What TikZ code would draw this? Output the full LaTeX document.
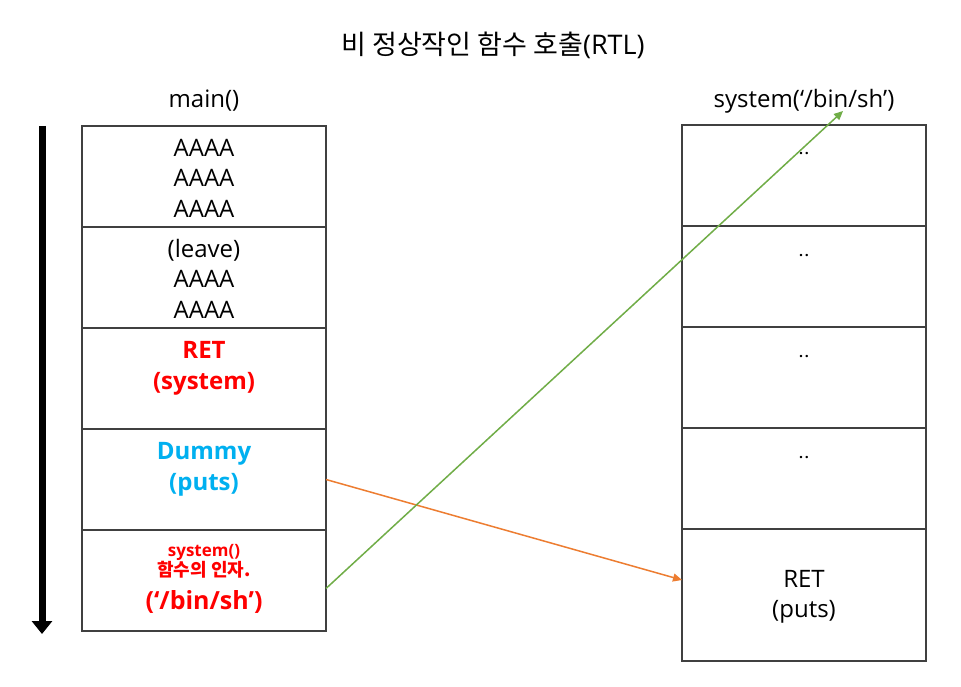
\documentclass[tikz,border=0pt]{standalone}
\usepackage{fontspec}
\setmainfont{Open Sans}
\newfontfamily\kr{Noto Sans CJK KR}
\usetikzlibrary{positioning,arrows.meta}
\definecolor{retred}{HTML}{FF0000}
\definecolor{dummyblue}{HTML}{00B0F0}
\definecolor{callorange}{HTML}{ED7D31}
\definecolor{callgreen}{HTML}{70AD47}
\definecolor{cellgray}{HTML}{404040}
\tikzset{every node/.style={inner sep=0pt,outer sep=0pt},
    cell/.style={draw=cellgray,line width=1.2pt,minimum width=244pt,minimum height=101pt},
    lastcell/.style={cell,minimum height=132pt},
    celltext/.style={align=center,font=\fontsize{24}{30.5}\selectfont},
    boldtext/.style={align=center,font=\bfseries\fontsize{24}{31.5}\selectfont},
    dots/.style={font=\bfseries\fontsize{14}{16}\selectfont},
    call/.style={line width=1.5pt,-{Triangle[length=9pt,width=8pt]}},
    }

\begin{document}
\begin{tikzpicture}[x=1pt,y=-1pt]
\useasboundingbox (0,0) rectangle (961,687);
\path[fill=white] (0,0) rectangle (961,687);
% title
\node[font=\fontsize{27}{30}\selectfont,anchor=base] (title) at (493,55) {{\kr 비 정상작인 함수 호출}(RTL)};
% main() stack
\node[cell] (L1) at (204,176.5) {};
\node[cell,below=0pt of L1] (L2) {};
\node[cell,below=0pt of L2] (L3) {};
\node[cell,below=0pt of L3] (L4) {};
\node[cell,below=0pt of L4] (L5) {};
\node[celltext,anchor=base] (mainlbl) at ([yshift=18pt]L1.north) {main()};
\node[celltext,anchor=north] (t1) at ([yshift=-13pt]L1.north) {AAAA\\AAAA\\AAAA};
\node[celltext,anchor=north] (t2) at ([yshift=-12pt]L2.north) {(leave)\\AAAA\\AAAA};
\node[boldtext,text=retred,anchor=north] (t3) at ([yshift=-13pt]L3.north) {RET\\(system)};
\node[boldtext,text=dummyblue,anchor=north] (t4) at ([yshift=-13pt]L4.north) {Dummy\\(puts)};
\node[align=center,text=retred,font=\bfseries\fontsize{17}{20}\selectfont,anchor=north] (t5)
    at ([yshift=-14pt]L5.north) {system()\\{\kr\fontsize{18}{20}\selectfont 함수의 인자.}\\[12pt]{\fontsize{25}{33}\selectfont (‘/bin/sh’)}};
% system() frame
\node[cell] (R1) at (804,175.5) {};
\node[cell,below=0pt of R1] (R2) {};
\node[cell,below=0pt of R2] (R3) {};
\node[cell,below=0pt of R3] (R4) {};
\node[lastcell,below=0pt of R4] (R5) {};
\node[celltext,anchor=base] (syslbl) at ([yshift=17pt]R1.north) {system(‘/bin/sh’)};
\foreach \i in {1,...,4}
    \node[dots,anchor=base] (d\i) at ([yshift=-30pt]R\i.north) {.\kern2pt.};
\node[celltext] (t6) at ([yshift=-2pt]R5.center) {RET\\(puts)};
% stack direction
\coordinate (stacktop) at ([xshift=-40pt]L1.north west);
\coordinate (stackbot) at ([xshift=-40pt,yshift=-3pt]L5.south west);
\draw[line width=7pt,-{Triangle[length=13pt,width=20pt]}] (stacktop) -- (stackbot);
% calls
\coordinate (shtarget) at (843,111);
\draw[call,callorange] (L4.east) -- ([yshift=15pt]R5.west);
\draw[call,callgreen] ([yshift=-8pt]L5.east) -- (shtarget);
\end{tikzpicture}
\end{document}
